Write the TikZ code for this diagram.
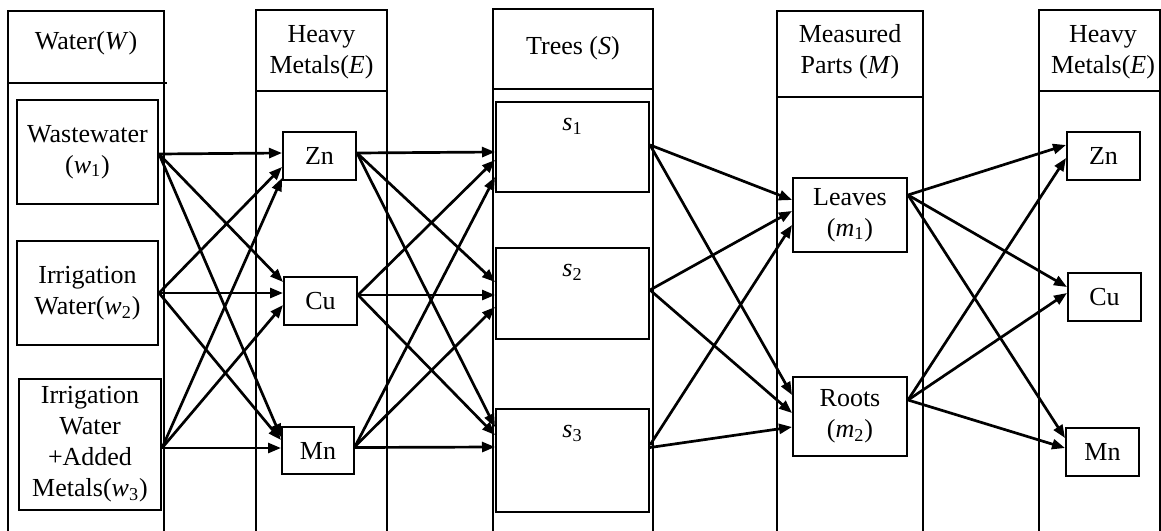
\documentclass[tikz,border=0pt]{standalone}
\usepackage{fontspec}
\setmainfont{Liberation Serif}
\usepackage{tikz}
\usetikzlibrary{arrows.meta, calc}

\tikzset{
  lane/.style={line width=1pt},
  heading/.style={align=center, font=\fontsize{13}{15.5}\selectfont},
  item/.style={draw, line width=1pt, align=center, inner sep=0pt, font=\fontsize{13}{15.5}\selectfont},
  arr/.style={-{Triangle[length=6.5pt,width=5pt]}, line width=1.35pt},
}

\begin{document}
\begin{tikzpicture}[x=0.5pt, y=-0.5pt]
  \useasboundingbox (0,0) rectangle (1161,530);

  % lanes with their headings
  \draw[lane] (8,11) rectangle (164,545);
  \draw[lane] (8,83) -- (167,83);
  \node[heading] (hW) at (86,43) {Water(\textit{W})};

  \draw[lane] (256,10) rectangle (387,545);
  \draw[lane] (256,91) -- (387,91);
  \node[heading] (hE) at (321.5,52) {Heavy\\Metals(\textit{E})};

  \draw[lane] (493,9) rectangle (653,545);
  \draw[lane] (493,89) -- (653,89);
  \node[heading] (hS) at (573,48) {Trees (\textit{S})};

  \draw[lane] (777,11) rectangle (923,545);
  \draw[lane] (777,97) -- (923,97);
  \node[heading] (hM) at (850,52) {Measured\\Parts (\textit{M})};

  \draw[lane] (1039,10) rectangle (1160,545);
  \draw[lane] (1039,91) -- (1160,91);
  \node[heading] (hE2) at (1103,52) {Heavy\\Metals(\textit{E})};

  % water
  \node[item, minimum width=70.5pt, minimum height=52pt] (w1) at (87.5,152) {Wastewater\\(\textit{w}\textsubscript{1})};
  \node[item, minimum width=70.5pt, minimum height=52pt] (w2) at (87.5,293) {Irrigation\\Water(\textit{w}\textsubscript{2})};
  \node[item, minimum width=71pt, minimum height=65.5pt] (w3) at (90,444.5) {Irrigation\\Water\\+Added\\Metals(\textit{w}\textsubscript{3})};

  % heavy metals
  \node[item, minimum width=36.5pt, minimum height=24pt] (Zn1) at (319.5,156) {Zn};
  \node[item, minimum width=36.5pt, minimum height=24pt] (Cu1) at (320.5,301) {Cu};
  \node[item, minimum width=36pt, minimum height=23.5pt] (Mn1) at (318,450.5) {Mn};

  % trees
  \node[item, minimum width=76.5pt, minimum height=45pt,
        label={[anchor=north, inner sep=0pt, yshift=-8.5pt, font=\fontsize{13}{15.5}\selectfont]north:\textit{s}\textsubscript{1}}] (s1) at (572.5,147) {};
  \node[item, minimum width=76.5pt, minimum height=45.5pt,
        label={[anchor=north, inner sep=0pt, yshift=-8.5pt, font=\fontsize{13}{15.5}\selectfont]north:\textit{s}\textsubscript{2}}] (s2) at (572.5,293.5) {};
  \node[item, minimum width=76.5pt, minimum height=51.5pt,
        label={[anchor=north, inner sep=0pt, yshift=-8.5pt, font=\fontsize{13}{15.5}\selectfont]north:\textit{s}\textsubscript{3}}] (s3) at (572.5,460.5) {};

  % measured parts
  \node[item, minimum width=57pt, minimum height=37pt] (Leaves) at (850,215) {Leaves\\(\textit{m}\textsubscript{1})};
  \node[item, minimum width=57pt, minimum height=39.5pt] (Roots) at (850,416.5) {Roots\\(\textit{m}\textsubscript{2})};

  % heavy metals again
  \node[item, minimum width=36.5pt, minimum height=24pt] (Zn2) at (1103.5,156) {Zn};
  \node[item, minimum width=36.5pt, minimum height=24pt] (Cu2) at (1104.5,297) {Cu};
  \node[item, minimum width=36.5pt, minimum height=24pt] (Mn2) at (1102.5,452) {Mn};

  % water to heavy metals
  \draw[arr] ($(w1.east)+(0,2)$) -- ($(Zn1.west)+(0,-3)$);
  \draw[arr] ($(w1.east)+(0,2)$) -- ($(Cu1.west)+(0,-19)$);
  \draw[arr] ($(w1.east)+(0,2)$) -- ($(Mn1.west)+(0,-13.5)$);
  \draw[arr] (w2.east) -- ($(Zn1.west)+(0,11)$);
  \draw[arr] (w2.east) -- ($(Cu1.west)+(0,-8)$);
  \draw[arr] (w2.east) -- ($(Mn1.west)+(0,-10.5)$);
  \draw[arr] ($(w3.east)+(0,3.5)$) -- ($(Zn1.west)+(0,22)$);
  \draw[arr] ($(w3.east)+(0,3.5)$) -- ($(Cu1.west)+(0,4)$);
  \draw[arr] ($(w3.east)+(0,3.5)$) -- ($(Mn1.west)+(0,-2.5)$);

  % heavy metals to trees
  \draw[arr] ($(Zn1.east)+(0,-3)$) -- ($(s1.west)+(0,5)$);
  \draw[arr] ($(Zn1.east)+(0,-3)$) -- ($(s2.west)+(0,-11.5)$);
  \draw[arr] ($(Zn1.east)+(0,-3)$) -- ($(s3.west)+(0,-33.5)$);
  \draw[arr] ($(Cu1.east)+(0,-6)$) -- ($(s1.west)+(0,13)$);
  \draw[arr] ($(Cu1.east)+(0,-6)$) -- ($(s2.west)+(0,1.5)$);
  \draw[arr] ($(Cu1.east)+(0,-6)$) -- ($(s3.west)+(0,-25.5)$);
  \draw[arr] ($(Mn1.east)+(0,-4)$) -- ($(s1.west)+(0,30)$);
  \draw[arr] ($(Mn1.east)+(0,-4)$) -- ($(s2.west)+(0,13.5)$);
  \draw[arr] ($(Mn1.east)+(0,-3)$) -- ($(s3.west)+(0,-13.5)$);

  % trees to measured parts
  \draw[arr] ($(s1.east)+(0,-2)$) -- ($(Leaves.west)+(0,-15)$);
  \draw[arr] ($(s1.east)+(0,-2)$) -- ($(Roots.west)+(0,-21.5)$);
  \draw[arr] ($(s2.east)+(0,-3.5)$) -- ($(Leaves.west)+(0,-4)$);
  \draw[arr] ($(s2.east)+(0,-3.5)$) -- ($(Roots.west)+(0,-3.5)$);
  \draw[arr] ($(s3.east)+(0,-15.5)$) -- ($(Leaves.west)+(0,10)$);
  \draw[arr] ($(s3.east)+(0,-13)$) -- ($(Roots.west)+(0,10.5)$);

  % measured parts to heavy metals
  \draw[arr] ($(Leaves.east)+(0,-20)$) -- ($(Zn2.west)+(0,-11)$);
  \draw[arr] ($(Leaves.east)+(0,-20)$) -- ($(Cu2.west)+(0,-10)$);
  \draw[arr] ($(Leaves.east)+(0,-20)$) -- ($(Mn2.west)+(0,-14)$);
  \draw[arr] ($(Roots.east)+(0,-16.5)$) -- ($(Zn2.west)+(0,2)$);
  \draw[arr] ($(Roots.east)+(0,-16.5)$) -- ($(Cu2.west)+(0,-4)$);
  \draw[arr] ($(Roots.east)+(0,-16.5)$) -- ($(Mn2.west)+(0,-4)$);
\end{tikzpicture}
\end{document}
